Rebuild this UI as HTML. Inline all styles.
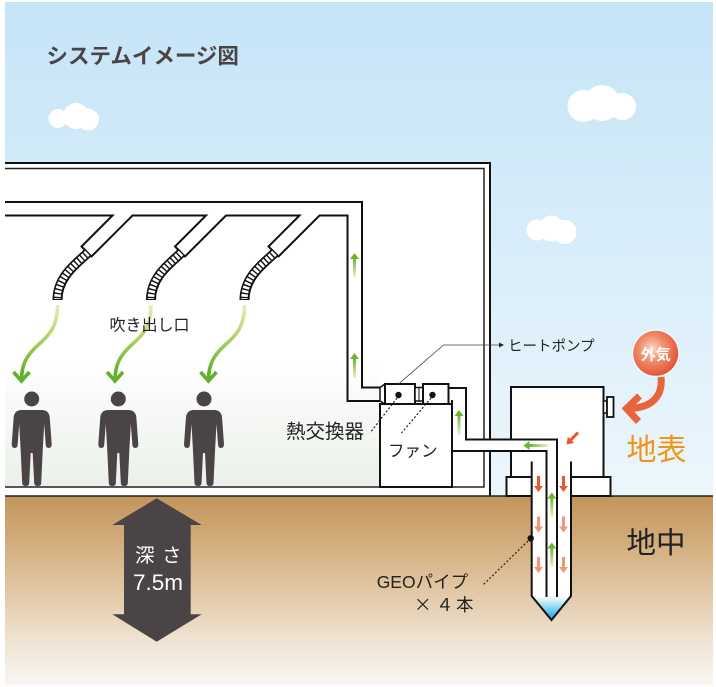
<!DOCTYPE html>
<html><head><meta charset="utf-8">
<style>
html,body{margin:0;padding:0;background:#fff;}
svg{display:block;}
text{font-family:"Liberation Sans","Noto Sans CJK JP",sans-serif;}
</style></head><body>
<svg width="716" height="687" viewBox="0 0 716 687" xmlns="http://www.w3.org/2000/svg">
<defs>
 <linearGradient id="sky" x1="0" y1="0" x2="0" y2="1">
   <stop offset="0" stop-color="#c5e4f7"/>
   <stop offset="1" stop-color="#ecf6fc"/>
 </linearGradient>
 <linearGradient id="ground" x1="0" y1="0" x2="0" y2="1">
   <stop offset="0" stop-color="#c4945b"/>
   <stop offset="0.4" stop-color="#dcbc93"/>
   <stop offset="0.75" stop-color="#efe2d0"/>
   <stop offset="1" stop-color="#f9f6f2"/>
 </linearGradient>
 <linearGradient id="room" gradientUnits="userSpaceOnUse" x1="0" y1="168" x2="0" y2="487">
   <stop offset="0" stop-color="#ffffff"/>
   <stop offset="0.6" stop-color="#ffffff"/>
   <stop offset="1" stop-color="#ebf0e9"/>
 </linearGradient>
 <linearGradient id="gCurve" gradientUnits="userSpaceOnUse" x1="0" y1="302" x2="0" y2="372">
   <stop offset="0" stop-color="#e8f0c4"/>
   <stop offset="0.45" stop-color="#b9d770"/>
   <stop offset="1" stop-color="#63b02c"/>
 </linearGradient>
 <linearGradient id="gUp" x1="0" y1="0" x2="0" y2="1">
   <stop offset="0" stop-color="#6ab42e"/>
   <stop offset="1" stop-color="#eaf3cc"/>
 </linearGradient>
 <linearGradient id="gLeft" x1="0" y1="0" x2="1" y2="0">
   <stop offset="0" stop-color="#6ab42e"/>
   <stop offset="1" stop-color="#eaf3cc"/>
 </linearGradient>
 <linearGradient id="tip" x1="0" y1="0" x2="0" y2="1">
   <stop offset="0" stop-color="#ffffff"/>
   <stop offset="1" stop-color="#16ace6"/>
 </linearGradient>
 <radialGradient id="ball" cx="0.42" cy="0.4" r="0.6">
   <stop offset="0" stop-color="#fbd6c6"/>
   <stop offset="0.5" stop-color="#ef8a66"/>
   <stop offset="1" stop-color="#e4563a"/>
 </radialGradient>
 <g id="person" fill="#4a4446">
   <circle cx="0" cy="0" r="7.5"/>
   <path d="M-10,11 L10,11 Q17,11 18,18 L20,45 Q20,49 17,49 Q14,49 14,45 L12.5,25 L11,52 L9.5,84 Q9.5,87 6,87 Q2.5,87 2.5,84 L1,54 L-1,54 L-2.5,84 Q-2.5,87 -6,87 Q-9.5,87 -9.5,84 L-11,52 L-12.5,25 L-14,45 Q-14,49 -17,49 Q-20,49 -20,45 L-18,18 Q-17,11 -10,11 Z"/>
 </g>
 <g id="garrow">
   <path d="M57.5,305 C57.5,328 48,336 38,345 C27,355 21.5,364 21.5,380" fill="none" stroke="url(#gCurve)" stroke-width="3.6"/>
   <path d="M13.5,372 L21.5,381 L29.5,372" fill="none" stroke="#63b02c" stroke-width="3.6"/>
 </g>
</defs>

<!-- background -->
<rect x="5" y="2" width="708" height="494" fill="url(#sky)"/>
<rect x="5" y="496" width="708" height="189" fill="url(#ground)"/>

<!-- clouds -->
<g fill="#fff">
 <circle cx="58" cy="118.5" r="9.5"/><circle cx="76" cy="116" r="13"/><circle cx="88" cy="119.5" r="11"/>
 <circle cx="583.5" cy="106" r="16"/><circle cx="602" cy="103" r="18"/><circle cx="622.5" cy="106.5" r="13.5"/>
 <circle cx="537" cy="230" r="10.5"/><circle cx="551.5" cy="228.5" r="13"/><circle cx="564.5" cy="232" r="12"/>
</g>

<!-- title -->
<text x="46.5" y="63.5" font-size="21.5" font-weight="bold" fill="#4a4446">システムイメージ図</text>

<!-- building -->
<rect x="5" y="163" width="485" height="333" fill="#fff"/>
<rect x="5" y="168.5" width="375" height="318.5" fill="url(#room)"/>
<path d="M5,163 H490 V496" stroke="#111" stroke-width="2" fill="none"/>
<path d="M5,168.5 H484 V487 H5" stroke="#222" stroke-width="1.5" fill="none"/>
<path d="M5,496 H713" stroke="#222" stroke-width="1.6"/>

<!-- ducts -->
<path d="M5,202 H362 V387.5 H380" stroke="#111" stroke-width="2" fill="none"/>
<path d="M5,215.5 H112.5 L81.5,246.5 L91.5,256.5 L132.5,215.5 H206 L175,246.5 L185,256.5 L226,215.5 H299.5 L268.5,246.5 L278.5,256.5 L319.5,215.5 H347.5 V401 H380" stroke="#111" stroke-width="2" fill="none" stroke-linejoin="miter"/>

<!-- hoses -->
<g fill="none" stroke-linecap="butt">
 <path d="M87.5,253 C77.5,263 57.5,276 57.5,300" stroke="#111" stroke-width="10"/>
 <path d="M87.5,253 C77.5,263 57.5,276 57.5,299" stroke="#fff" stroke-width="6.5" stroke-dasharray="2.6 1.4"/>
 <path d="M181,253 C171,263 151,276 151,300" stroke="#111" stroke-width="10"/>
 <path d="M181,253 C171,263 151,276 151,299" stroke="#fff" stroke-width="6.5" stroke-dasharray="2.6 1.4"/>
 <path d="M274.5,253 C264.5,263 244.5,276 244.5,300" stroke="#111" stroke-width="10"/>
 <path d="M274.5,253 C264.5,263 244.5,276 244.5,299" stroke="#fff" stroke-width="6.5" stroke-dasharray="2.6 1.4"/>
</g>

<!-- green curved arrows -->
<use href="#garrow"/>
<use href="#garrow" transform="translate(93.5,0)"/>
<use href="#garrow" transform="translate(187,0)"/>

<text x="109.5" y="330.5" font-size="16" fill="#222">吹き出し口</text>

<!-- people -->
<use href="#person" transform="translate(31.7,399)"/>
<use href="#person" transform="translate(118.3,399)"/>
<use href="#person" transform="translate(204,399)"/>

<!-- duct up arrows -->
<path d="M350,259 L354.5,253 L359,259 Z" fill="#6ab42e"/><rect x="353" y="258" width="3" height="19" fill="url(#gUp)"/>
<path d="M350,359 L354.5,353 L359,359 Z" fill="#6ab42e"/><rect x="353" y="358" width="3" height="20" fill="url(#gUp)"/>

<!-- outdoor unit -->
<rect x="511" y="387" width="92.5" height="90" fill="#fff" stroke="#111" stroke-width="2"/>
<rect x="603.5" y="401" width="3.5" height="12" fill="#fff" stroke="#111" stroke-width="1.5"/>
<rect x="607" y="397" width="6.5" height="20" fill="#fff" stroke="#111" stroke-width="1.8"/>
<rect x="506.5" y="477" width="104" height="19" fill="#fff" stroke="#111" stroke-width="2"/>

<!-- heat exchanger / fan -->
<rect x="380" y="404" width="72" height="83" fill="#fff" stroke="#111" stroke-width="2"/>
<polygon points="380,387.5 385,384 385,404 380,401" fill="#fff" stroke="#111" stroke-width="1.5"/>
<rect x="385" y="384" width="30" height="20" fill="#fff" stroke="#111" stroke-width="2"/>
<rect x="415" y="387.5" width="8" height="13.5" fill="#fff" stroke="#111" stroke-width="1.5"/>
<line x1="419" y1="387.5" x2="419" y2="401" stroke="#111" stroke-width="1"/>
<rect x="423" y="384" width="25.5" height="20" fill="#fff" stroke="#111" stroke-width="2"/>
<circle cx="398.5" cy="395" r="3.2" fill="#111"/>
<circle cx="432.5" cy="395" r="3.2" fill="#111"/>

<!-- duct fan -> pipe fills -->
<rect x="453" y="389" width="12" height="61" fill="#fff"/>
<rect x="465" y="440.5" width="91" height="9.5" fill="#fff"/>

<!-- GEO pipe -->
<path d="M531.7,461.5 V596 L551.5,620 L571,596 V461.5 Z" fill="#fff"/>
<polygon points="533,596.5 570,596.5 551.5,618.5" fill="url(#tip)"/>
<path d="M531.7,461.5 V596 L551.5,620 L571,596 V461.5" fill="none" stroke="#111" stroke-width="2" stroke-linejoin="miter"/>

<!-- duct lines to pipe -->
<path d="M448.5,388 H466 V439.5 H557 V597" fill="none" stroke="#111" stroke-width="2"/>
<path d="M452,400 V404 M452,451 H546.5 V597" fill="none" stroke="#111" stroke-width="2"/>

<!-- arrows fan duct & left -->
<path d="M454.5,416 L459,410 L463.5,416 Z" fill="#6ab42e"/><rect x="457.5" y="415" width="3" height="20" fill="url(#gUp)"/>
<path d="M523.3,445.5 L529.5,441 L529.5,450 Z" fill="#6ab42e"/><rect x="529" y="444" width="19" height="3" fill="url(#gLeft)"/>

<!-- red diagonal arrow -->
<line x1="578" y1="432.5" x2="570.5" y2="440.3" stroke="#e8572f" stroke-width="3"/>
<polygon points="566.5,444.5 574.2,442.9 567.8,436.7" fill="#e8572f"/>

<!-- red down arrows -->
<g fill="#e8572f">
 <rect x="537" y="476" width="3" height="11"/><path d="M534,486 L538.5,492 L543,486 Z"/>
 <rect x="562" y="476" width="3" height="11"/><path d="M559,486 L563.5,492 L568,486 Z"/>
</g>
<g fill="#f1967a">
 <rect x="537" y="516.5" width="3" height="11"/><path d="M534,526.5 L538.5,532.5 L543,526.5 Z"/>
 <rect x="562" y="516.5" width="3" height="11"/><path d="M559,526.5 L563.5,532.5 L568,526.5 Z"/>
 <rect x="537" y="557" width="3" height="11"/><path d="M534,567 L538.5,573 L543,567 Z"/>
 <rect x="562" y="557" width="3" height="11"/><path d="M559,567 L563.5,573 L568,567 Z"/>
</g>
<!-- green up in pipe -->
<path d="M547.3,498.5 L551.8,492.5 L556.3,498.5 Z" fill="#6ab42e"/><rect x="550.3" y="497.5" width="3" height="19.5" fill="url(#gUp)"/>
<path d="M547.3,548.5 L551.8,542.5 L556.3,548.5 Z" fill="#6ab42e"/><rect x="550.3" y="547.5" width="3" height="19.5" fill="url(#gUp)"/>

<!-- leaders -->
<path d="M398.5,384 L443.5,345 H499" stroke="#444" stroke-width="0.8" fill="none"/>
<polygon points="499,342.5 504,345 499,347.5" fill="#222"/>
<path d="M397,398 L370,433 M431,398 L401.5,433" stroke="#222" stroke-width="1.2" stroke-dasharray="2 2" fill="none"/>
<circle cx="530.7" cy="538.3" r="3.2" fill="#111"/>
<path d="M528,541 L483,585" stroke="#222" stroke-width="1.2" stroke-dasharray="2 2" fill="none"/>

<!-- labels -->
<text x="508" y="351" font-size="14.5" fill="#222">ヒートポンプ</text>
<text x="286" y="438" font-size="19.5" fill="#222">熱交換器</text>
<text x="388" y="456.5" font-size="16.5" fill="#222">ファン</text>
<text x="376.7" y="588" font-size="17.5" fill="#222">GEOパイプ</text>
<text y="611" font-size="17.5" fill="#222"><tspan x="414" style="font-family:'Noto Sans CJK JP',sans-serif">×</tspan><tspan x="436">４</tspan><tspan x="456">本</tspan></text>

<!-- outside air -->
<circle cx="655.7" cy="353.3" r="24" fill="#fff" opacity="0.6"/>
<circle cx="655.7" cy="353.3" r="22.5" fill="url(#ball)"/>
<text x="655.7" y="359.5" font-size="15" font-weight="bold" fill="#fff" text-anchor="middle">外気</text>
<path d="M661,377 C663,397 651,408 629,408.5" fill="none" stroke="#e8643c" stroke-width="7"/>
<path d="M639.5,396 L626.5,408.5 L638.5,421.5" fill="none" stroke="#e8643c" stroke-width="7" stroke-linejoin="miter"/>
<text x="626.5" y="460" font-size="30" fill="#f39418">地表</text>
<text x="626.5" y="553" font-size="29.5" fill="#222">地中</text>

<!-- depth arrow -->
<polygon points="156.7,498.3 201.7,525 190.7,525 190.7,614.3 201.7,614.3 156.7,641.7 112.3,614.3 124,614.3 124,525 112.3,525" fill="#4a4446"/>
<text y="562" font-size="19.5" fill="#fff"><tspan x="135">深</tspan><tspan x="162">さ</tspan></text>
<text x="133" y="590" font-size="22.5" fill="#fff">7.5m</text>
</svg>
</body></html>
